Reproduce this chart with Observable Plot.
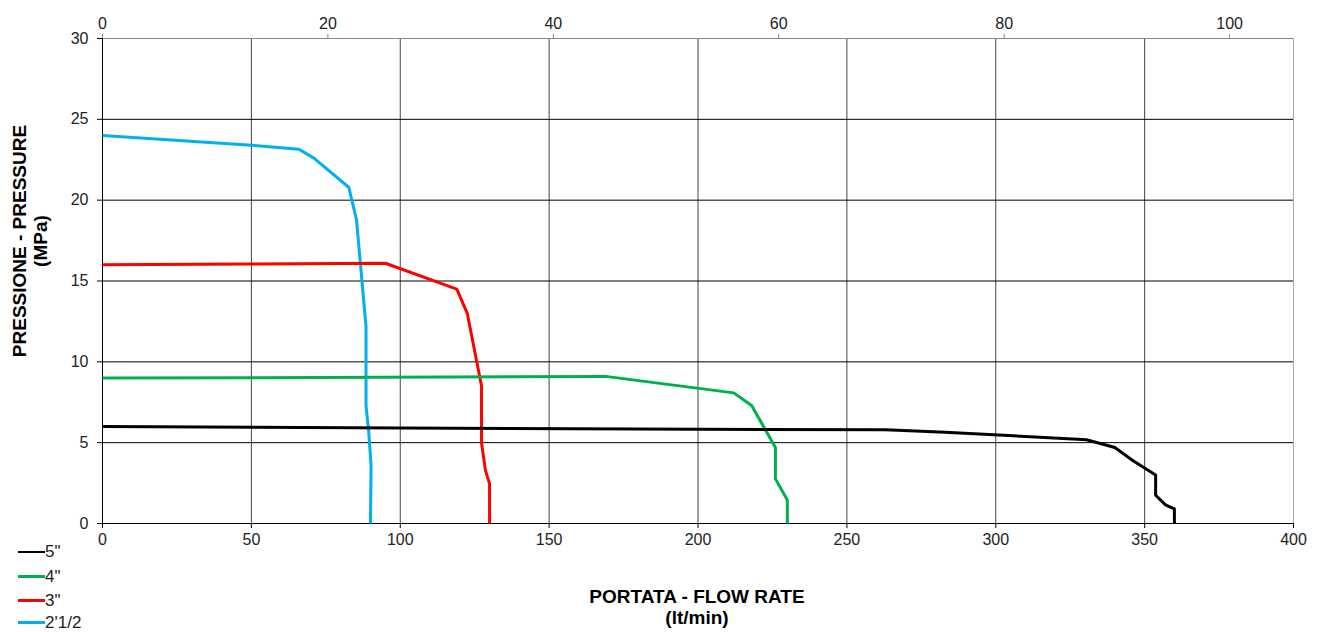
<!DOCTYPE html>
<html>
<head>
<meta charset="utf-8">
<script src="https://cdn.jsdelivr.net/npm/d3@7"></script>
<script src="https://cdn.jsdelivr.net/npm/@observablehq/plot@0.6"></script>
<style>
  html, body { margin: 0; padding: 0; background: #fff; }
  #wrap { position: relative; width: 1319px; height: 632px; overflow: hidden; font-family: "Liberation Sans", Arial, sans-serif; }
  .title { position: absolute; font-weight: bold; font-size: 19px; color: #000; text-align: center; line-height: 21px; white-space: nowrap; }
  #ytitle { left: 30px; top: 241px; transform: translate(-50%, -50%) rotate(-90deg); }
  #xtitle { left: 697px; top: 586px; transform: translateX(-50%); }
  .leg { position: absolute; left: 18px; font-size: 17px; color: #222; height: 17px; line-height: 17px; }
  .leg span.sw { position: absolute; left: 0; top: 7px; width: 27px; height: 3px; }
  .leg span.lb { position: absolute; left: 27px; top: 0; white-space: nowrap; }
</style>
</head>
<body>
<div id="wrap"></div>
<script>
// Data (flow in lt/min, pressure in MPa)
const seriesNames = ["5\"", "4\"", "3\"", "2'1/2"];
const seriesColors = ["#000000", "#00B050", "#FF0000", "#00B0F0"];

const flow5 = [0, 100, 200, 263, 283, 330.5, 340, 346, 353.7, 353.7, 357, 360, 360];
const pres5 = [6.0, 5.9, 5.83, 5.8, 5.65, 5.18, 4.7, 3.9, 3.0, 1.75, 1.15, 0.9, 0];

const flow4 = [0, 50, 169, 212, 218, 226, 226, 230, 230];
const pres4 = [9.0, 9.02, 9.1, 8.08, 7.3, 4.7, 2.76, 1.45, 0];

const flow3 = [0, 50, 95, 119, 122.5, 127.3, 127.3, 128.6, 130, 130];
const pres3 = [16.0, 16.05, 16.1, 14.5, 13.0, 8.5, 5.0, 3.3, 2.45, 0];

const flow25 = [0, 50, 66, 71, 82.7, 85.3, 88.5, 88.5, 89.4, 90.2, 90];
const pres25 = [24.0, 23.4, 23.15, 22.6, 20.8, 18.8, 12.2, 7.3, 5.7, 3.6, 0];

const xTicks = [0, 50, 100, 150, 200, 250, 300, 350, 400];
const yTicks = [0, 5, 10, 15, 20, 25, 30];
const gpmTicks = [0, 20, 40, 60, 80, 100];
const LPM_PER_GPM = 3.785411784;

function rows(flow, pres) { return flow.map((f, i) => ({flow: f, pres: pres[i]})); }

const lineStyle = {x: "flow", y: "pres", strokeWidth: 3, strokeLinejoin: "round", strokeLinecap: "butt"};

const chart = Plot.plot({
  width: 1319,
  height: 632,
  marginLeft: 102,
  marginRight: 26,
  marginTop: 38,
  marginBottom: 109,
  x: {domain: [0, 400]},
  y: {domain: [0, 30]},
  style: {fontFamily: "'Liberation Sans', Arial, sans-serif", fontSize: "16px", color: "#222", background: "#fff"},
  marks: [
    Plot.gridX(xTicks.filter(d => d > 0 && d < 400), {stroke: "#444", strokeOpacity: 1}),
    Plot.gridY(yTicks.filter(d => d > 0 && d < 30), {stroke: "#000", strokeOpacity: 1}),
    Plot.ruleX([400], {stroke: "#aaa"}),
    Plot.ruleY([30], {stroke: "#888"}),
    Plot.axisY({ticks: yTicks, tickSize: 5, tickPadding: 9, label: null, stroke: "#000", fill: "#222", fontSize: 16}),
    Plot.axisX({ticks: xTicks, anchor: "bottom", tickSize: 5, tickPadding: 5, label: null, stroke: "#000", fill: "#222", fontSize: 16}),
    Plot.axisX({ticks: gpmTicks.map(g => g * LPM_PER_GPM), anchor: "top", tickSize: 5, tickPadding: 5, label: null,
      tickFormat: d => String(Math.round(d / LPM_PER_GPM)), stroke: "#888", fill: "#222", fontSize: 16}),
    Plot.ruleX([0], {stroke: "#000"}),
    Plot.ruleY([0], {stroke: "#000"}),
    Plot.line(rows(flow25, pres25), {...lineStyle, stroke: seriesColors[3]}),
    Plot.line(rows(flow3, pres3), {...lineStyle, stroke: seriesColors[2]}),
    Plot.line(rows(flow4, pres4), {...lineStyle, stroke: seriesColors[1]}),
    Plot.line(rows(flow5, pres5), {...lineStyle, stroke: seriesColors[0]})
  ]
});

const wrap = document.getElementById("wrap");
wrap.appendChild(chart);

const yt = document.createElement("div");
yt.className = "title"; yt.id = "ytitle";
yt.innerHTML = "PRESSIONE - PRESSURE<br>(MPa)";
wrap.appendChild(yt);

const xt = document.createElement("div");
xt.className = "title"; xt.id = "xtitle";
xt.innerHTML = "PORTATA - FLOW RATE<br>(lt/min)";
wrap.appendChild(xt);

const legTops = [543, 568, 592, 614];
seriesNames.forEach((name, i) => {
  const d = document.createElement("div");
  d.className = "leg";
  d.style.top = legTops[i] + "px";
  const sw = document.createElement("span");
  sw.className = "sw"; sw.style.background = seriesColors[i];
  if (i === 0) { sw.style.height = "2px"; sw.style.top = "8px"; }
  const lb = document.createElement("span");
  lb.className = "lb"; lb.textContent = name;
  d.appendChild(sw); d.appendChild(lb);
  wrap.appendChild(d);
});
</script>
</body>
</html>
